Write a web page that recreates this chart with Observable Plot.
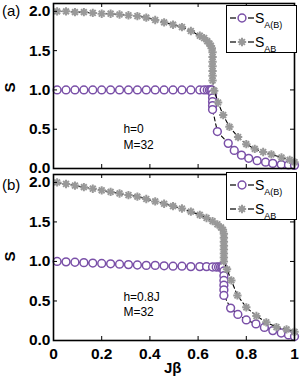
<!DOCTYPE html>
<html><head><meta charset="utf-8">
<script src="https://cdn.jsdelivr.net/npm/d3@7"></script>
<script src="https://cdn.jsdelivr.net/npm/@observablehq/plot@0.6"></script>
<style>
body{margin:0;background:#fff;font-family:"Liberation Sans",Arial,sans-serif;}
#wrap{position:relative;width:300px;height:377px;overflow:hidden;background:#fff}
#wrap > svg, #wrap > .lab{position:absolute}
.lab{white-space:nowrap;color:#000;line-height:1}
</style></head><body><div id="wrap"></div>
<script>
// ---- data ----
const xTicks = [0, 0.2, 0.4, 0.6, 0.8, 1];
const xTickLabels = ["0", "0.2", "0.4", "0.6", "0.8", "1"];
const yTicks = [0, 0.5, 1, 1.5, 2];
const yTickLabels = ["0.0", "0.5", "1.0", "1.5", "2.0"];
const seriesNames = ["A(B)", "AB"];
const panelLabels = ["(a)", "(b)"];
const panelNotes = ["h=0\nM=32", "h=0.8J\nM=32"];

// panel (a), h = 0
const aSAx = [0.015,0.052,0.089,0.126,0.163,0.2,0.237,0.274,0.311,0.348,0.385,0.422,0.459,0.496,0.533,0.57,0.607,
  0.625,0.638,0.647,0.653,0.657, 0.66,0.66,0.66,0.66,0.66,
  0.68,0.725,0.75,0.78,0.81,0.845,0.88,0.91,0.945,0.975,1.0];
const aSAy = [1,1,1,1,1,1,1,1,1,1,1,1,1,1,1,1,1,
  1,1,1,1,1, 0.95,0.90,0.85,0.80,0.75,
  0.47,0.32,0.23,0.17,0.13,0.10,0.08,0.065,0.05,0.045,0.04];
const aSABx = [0.015,0.052,0.089,0.126,0.163,0.2,0.237,0.274,0.311,0.348,0.385,0.422,0.459,0.496,0.533,0.57,0.607,
  0.625,0.638,0.647,0.653,0.657, 0.66,0.66,0.66,0.66,0.66,0.66,0.66,
  0.667,0.683,0.704,0.73,0.766,0.80,0.835,0.87,0.904,0.946,0.98,1.0];
const aSABy = [2.0,2.0,1.99,1.99,1.98,1.97,1.97,1.96,1.95,1.94,1.92,1.89,1.86,1.83,1.80,1.75,1.69,
  1.66,1.62,1.59,1.56,1.53, 1.48,1.42,1.36,1.30,1.24,1.18,1.12,
  0.99,0.84,0.68,0.53,0.40,0.31,0.25,0.21,0.18,0.14,0.11,0.08];

// panel (b), h = 0.8J
const bSAx = [0.015,0.052,0.089,0.126,0.163,0.2,0.237,0.274,0.311,0.348,0.385,0.422,0.459,0.496,0.533,0.57,0.607,
  0.635,0.66,0.675,0.685,0.693,0.699,0.703, 0.707,0.707,0.707,0.707,0.707,0.707,
  0.735,0.765,0.80,0.84,0.875,0.91,0.945,0.975,1.0];
const bSAy = [1.0,0.995,0.99,0.985,0.98,0.975,0.97,0.965,0.96,0.955,0.95,0.95,0.945,0.94,0.94,0.935,0.935,
  0.935,0.93,0.93,0.93,0.93,0.93,0.93, 0.88,0.82,0.76,0.70,0.64,0.57,
  0.41,0.33,0.26,0.21,0.165,0.125,0.095,0.07,0.05];
const bSABx = [0.015,0.052,0.089,0.126,0.163,0.2,0.237,0.274,0.311,0.348,0.385,0.422,0.459,0.496,0.533,0.57,0.607,
  0.635,0.66,0.68,0.695,0.703, 0.707,0.707,0.707,0.707,0.707,0.707,0.707,0.707,
  0.72,0.738,0.763,0.80,0.842,0.883,0.925,0.967,1.0];
const bSABy = [2.0,1.98,1.96,1.94,1.92,1.90,1.88,1.86,1.84,1.82,1.79,1.76,1.73,1.70,1.67,1.63,1.59,
  1.55,1.51,1.47,1.43,1.40, 1.35,1.30,1.25,1.20,1.15,1.10,1.05,1.0,
  0.90,0.76,0.57,0.42,0.31,0.23,0.17,0.14,0.11];

// ---- styles ----
const PURPLE = "#7a50a8", GRAY = "#999999";
const W = 300, ML = 53, MR = 6;
const innerW = W - ML - MR;
const TL = 4; // inward tick length
const FONT = "'Liberation Sans', Arial, Helvetica, sans-serif";

function pts(xs, ys){ return xs.map((x,i)=>({x, y: ys[i]})); }

function panel({sa, sab, note, noteX, noteY, height, mt, mb, showX}) {
  const innerH = height - mt - mb;
  const yfmt = d => yTickLabels[yTicks.indexOf(d)];
  const xfmt = d => xTickLabels[xTicks.indexOf(d)];
  const marks = [
    Plot.line(sa, {x:"x", y:"y", stroke:"black", strokeWidth:1.1, strokeDasharray:"4,3"}),
    Plot.dot(sa, {x:"x", y:"y", r:3.9, stroke:PURPLE, strokeWidth:1.5, fill:"white"}),
    Plot.line(sab, {x:"x", y:"y", stroke:"black", strokeWidth:1.1, strokeDasharray:"4,3"}),
    Plot.dot(sab, {x:"x", y:"y", r:2.8, symbol:"plus", stroke:GRAY, strokeWidth:2}),
    Plot.dot(sab, {x:"x", y:"y", r:2.75, symbol:"times", stroke:GRAY, strokeWidth:2}),
    Plot.text([note], {x: noteX, y: noteY, text: d=>d, textAnchor:"start", fontSize:12, lineHeight:1.3, fill:"black"}),
    // inward ticks on all four sides
    Plot.tickY(yTicks, {y: d=>d, insetRight: innerW - TL, stroke:"black", strokeWidth:1}),
    Plot.tickY(yTicks, {y: d=>d, insetLeft: innerW - TL, stroke:"black", strokeWidth:1}),
    Plot.tickX(xTicks, {x: d=>d, insetTop: innerH - TL, stroke:"black", strokeWidth:1}),
    Plot.tickX(xTicks, {x: d=>d, insetBottom: innerH - TL, stroke:"black", strokeWidth:1}),
    Plot.frame({stroke:"black", strokeWidth:1.6}),
    Plot.axisY({ticks: yTicks, tickSize:0, tickPadding:3, tickFormat: yfmt, fontSize:15.5, fontWeight:"bold", label:null})
  ];
  if (showX) marks.push(Plot.axisX({ticks: xTicks, tickSize:0, tickPadding:7, tickFormat: xfmt, fontSize:15.5, fontWeight:"bold", label:null}));
  else marks.push(Plot.axisX({ticks: [], label:null}));
  return Plot.plot({
    width: W, height, marginLeft: ML, marginRight: MR, marginTop: mt, marginBottom: mb,
    x: {domain:[0,1]}, y: {domain:[0,2.1]},
    style: {background:"transparent", overflow:"visible", fontFamily: FONT, color:"black"},
    marks
  });
}

const wrap = document.getElementById("wrap");

const pa = panel({sa: pts(aSAx,aSAy), sab: pts(aSABx,aSABy), note: panelNotes[0], noteX:0.29, noteY:0.41, height:172, mt:3, mb:4, showX:false});
pa.style.left = "0px"; pa.style.top = "0px";
wrap.appendChild(pa);
const pb = panel({sa: pts(bSAx,bSAy), sab: pts(bSABx,bSABy), note: panelNotes[1], noteX:0.29, noteY:0.47, height:205, mt:2, mb:37, showX:true});
pb.style.left = "0px"; pb.style.top = "172px";
wrap.appendChild(pb);

// legends
function legend(top) {
  const svg = d3.create("svg").attr("width", 71).attr("height", 48)
    .style("position","absolute").style("left","226px").style("top", top+"px").style("overflow","visible");
  svg.append("rect").attr("x",0.5).attr("y",0.5).attr("width",70).attr("height",47).attr("fill","white").attr("stroke","black").attr("stroke-width",1);
  const rows = [{cy:13, name:seriesNames[0], kind:"circle"}, {cy:37, name:seriesNames[1], kind:"star"}];
  for (const r of rows) {
    svg.append("line").attr("x1",4).attr("x2",10).attr("y1",r.cy).attr("y2",r.cy).attr("stroke","black").attr("stroke-width",1.2);
    svg.append("line").attr("x1",22).attr("x2",28).attr("y1",r.cy).attr("y2",r.cy).attr("stroke","black").attr("stroke-width",1.2);
    if (r.kind === "circle") {
      svg.append("circle").attr("cx",16).attr("cy",r.cy).attr("r",3.9).attr("fill","white").attr("stroke",PURPLE).attr("stroke-width",1.5);
    } else {
      svg.append("path").attr("d", d3.symbol(d3.symbolPlus, Math.PI*2.8*2.8)()).attr("transform",`translate(16,${r.cy})`).attr("fill","none").attr("stroke",GRAY).attr("stroke-width",2);
      svg.append("path").attr("d", d3.symbol(d3.symbolTimes, Math.PI*2.75*2.75)()).attr("transform",`translate(16,${r.cy})`).attr("fill","none").attr("stroke",GRAY).attr("stroke-width",2);
    }
    const t = svg.append("text").attr("x",29).attr("y",r.cy+5).attr("font-size",14).attr("font-family",FONT);
    t.append("tspan").text("S");
    t.append("tspan").attr("font-size",9).attr("dy",5).text(r.name);
  }
  wrap.appendChild(svg.node());
}
legend(5);
legend(172);

// free text labels
function lab(text, css) {
  const d = document.createElement("div");
  d.className = "lab"; d.textContent = text;
  Object.assign(d.style, css);
  wrap.appendChild(d);
  return d;
}
lab(panelLabels[0], {left:"2px", top:"3px", fontSize:"15px"});
lab(panelLabels[1], {left:"2px", top:"177px", fontSize:"15px"});
lab("S", {left:"4px", top:"80px", fontSize:"15px", fontWeight:"bold", transform:"rotate(-90deg)"});
lab("S", {left:"4px", top:"249px", fontSize:"15px", fontWeight:"bold", transform:"rotate(-90deg)"});
lab("Jβ", {left:"164px", top:"360px", fontSize:"15px", fontWeight:"bold"});
</script>
</body></html>
